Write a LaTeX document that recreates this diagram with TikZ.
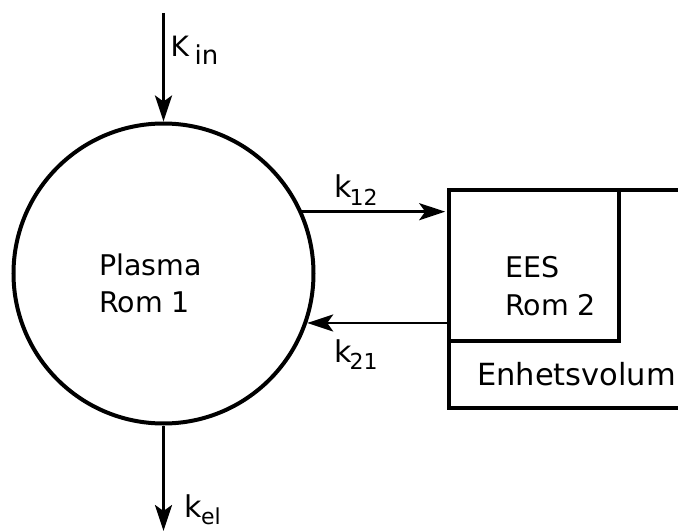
\documentclass[tikz,border=0pt]{standalone}
\usepackage{fontspec}
\setmainfont{DejaVu Sans}
\usetikzlibrary{arrows.meta}
\begin{document}
\begin{tikzpicture}[x=1pt,y=-1pt,
  lbl/.style={inner sep=0pt, anchor=base west, font=\fontsize{28.5}{37}\selectfont},
  biglbl/.style={inner sep=0pt, anchor=base west, font=\fontsize{30.5}{37}\selectfont},
  klbl/.style={inner sep=0pt, anchor=base west, font=\fontsize{30}{37}\selectfont},
  flow/.style={line width=2.7pt, -{Stealth[length=26pt,width=17pt,inset=6pt]}},
  boxline/.style={draw, line width=3.6pt, rectangle, inner sep=0pt}]
\newcommand{\sbs}[1]{\raisebox{-7.5pt}{\fontsize{22}{22}\selectfont #1}}
\useasboundingbox (0,0) rectangle (678,532);
\clip (0,0) rectangle (678,532);
% compartments
\node[circle, draw, line width=4pt, minimum size=300pt, inner sep=0pt] (plasma) at (163.5,273.5) {};
\node[boxline, minimum width=271pt, minimum height=218pt] (volbox) at (584.5,299) {};
\node[boxline, minimum width=170pt, minimum height=151pt] (eesbox) at (534,265.5) {};
% texts
\node[lbl] (plasmaA) at (99,275) {Plasma};
\node[lbl] (plasmaB) at (99,312) {Rom 1};
\node[lbl] (eesA) at (505,277) {EES};
\node[lbl] (eesB) at (505,315) {Rom 2};
\node[biglbl] (unit) at (477,385) {Enhetsvolum};
% flows
\coordinate (inTop) at (163.5,13);
\coordinate (elEnd) at (163.5,531);
\draw[flow] (inTop) -- (plasma.north);
\draw[flow] (plasma.south) -- (elEnd);
\draw[flow, shorten >=2pt] (plasma.24.6) -- (plasma.24.6 -| eesbox.west);
\draw[flow] (plasma.-19.3 -| eesbox.west) -- (plasma.-19.3);
% rate labels
\node[inner sep=0pt, anchor=base west, font=\fontsize{28}{37}\selectfont] (kin) at (170.5,57) {K\kern5.5pt\raisebox{-8pt}{\fontsize{26}{26}\selectfont in}};
\node[klbl] (kel) at (184,517) {k\kern-0.5pt\sbs{el}};
\node[klbl] (k12) at (334,198) {k\kern-2pt\sbs{12}};
\node[klbl] (k21) at (334,362) {k\kern-2pt\sbs{21}};
\end{tikzpicture}
\end{document}
